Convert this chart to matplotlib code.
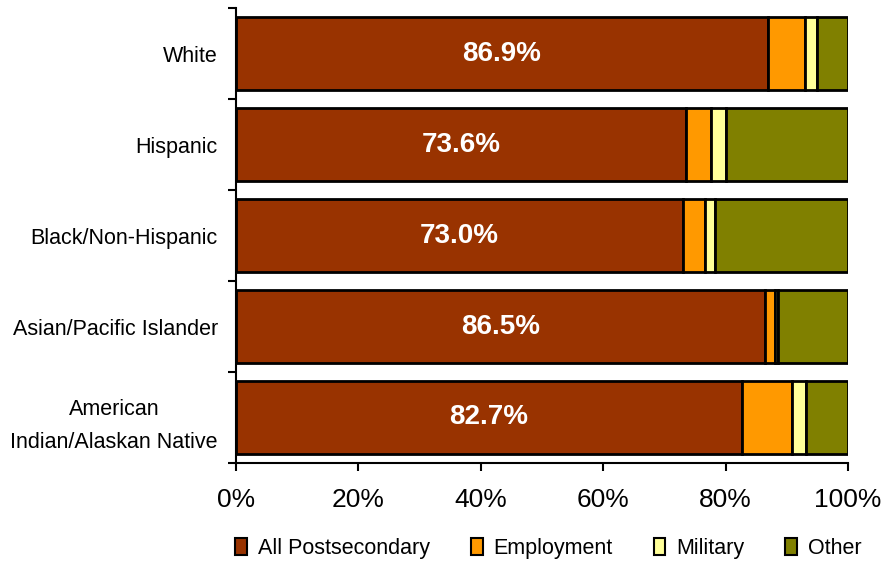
import numpy as np
import matplotlib
matplotlib.use("Agg")
import matplotlib.pyplot as plt
from matplotlib.patches import Patch

plt.rcParams['font.family'] = ['Liberation Sans', 'DejaVu Sans']

groups = ["White", "Hispanic", "Black/Non-Hispanic", "Asian/Pacific Islander",
          "American\nIndian/Alaskan Native"]
series = ["All Postsecondary", "Employment", "Military", "Other"]
postsecondary = [86.9, 73.6, 73.0, 86.5, 82.7]
employment = [6.1, 4.0, 3.6, 1.6, 8.1]
military = [2.0, 2.4, 1.7, 0.4, 2.3]
other = [5.0, 20.0, 21.7, 11.5, 6.9]
colors = ["#993300", "#FF9900", "#FFFF99", "#808000"]

fig = plt.figure(figsize=(8.93, 5.61), dpi=100)
ax = fig.add_axes([0.2643, 0.1747, 0.6853, 0.811])

y = np.arange(len(groups))
left = np.zeros(len(groups))
for vals, col in zip([postsecondary, employment, military, other], colors):
    ax.barh(y, vals, left=left, height=0.8, color=col, edgecolor="black", linewidth=2)
    left += np.array(vals)

for i, v in enumerate(postsecondary):
    ax.text(v / 2, y[i], f"{v:.1f}%", ha="center", va="center",
            color="white", fontsize=20, fontweight="bold")

ax.set_ylim(len(groups) - 0.5, -0.5)
ax.set_xlim(0, 100)
ax.set_yticks(y)
ax.set_yticklabels(groups, fontsize=15.5, multialignment="center", linespacing=1.75)
ax.tick_params(axis="y", length=0, pad=13)
ax.set_yticks(np.arange(-0.5, len(groups), 1), minor=True)
ax.tick_params(axis="y", which="minor", length=6, width=1.5)
ax.set_xticks(np.arange(0, 101, 20))
ax.set_xticklabels([f"{t}%" for t in range(0, 101, 20)], fontsize=19)
ax.tick_params(axis="x", length=6, width=1.5, pad=12)
ax.spines["top"].set_visible(False)
ax.spines["right"].set_visible(False)
ax.spines["left"].set_linewidth(1.5)
ax.spines["bottom"].set_linewidth(1.5)

handles = [Patch(facecolor=c, edgecolor="black", linewidth=1.5) for c in colors]
fig.legend(handles, series, loc="center", bbox_to_anchor=(0.614, 0.022), ncol=4,
           frameon=False, fontsize=15.5, handlelength=0.55, handleheight=0.8,
           handletextpad=0.5, columnspacing=1.9)

fig.savefig("out.png", dpi=100)
